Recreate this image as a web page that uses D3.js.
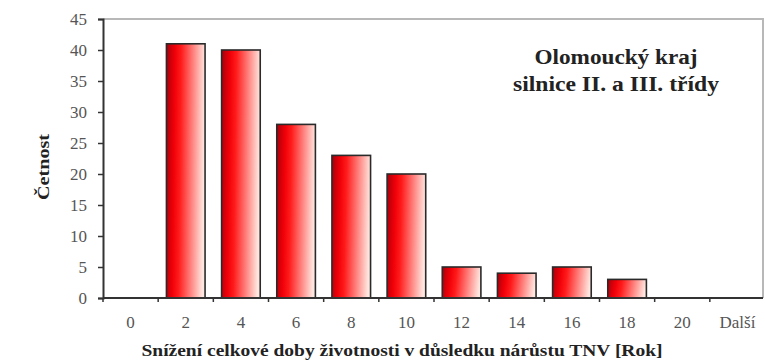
<!DOCTYPE html>
<html>
<head>
<meta charset="utf-8">
<script src="https://cdn.jsdelivr.net/npm/d3@7"></script>
<style>
  html, body { margin: 0; padding: 0; background: #fff; }
  svg { display: block; }
</style>
</head>
<body>
<svg id="chart" width="765" height="363"></svg>
<script>
// Histogram categories (years of service-life reduction) and their counts
const categories = ["0", "2", "4", "6", "8", "10", "12", "14", "16", "18", "20", "Další"];
const counts     = [0, 41, 40, 28, 23, 20, 5, 4, 5, 3, 0, 0];
const yTicks     = [0, 5, 10, 15, 20, 25, 30, 35, 40, 45];
const titleLines = ["Olomoucký kraj", "silnice II. a III. třídy"];
const xTitle     = "Snížení celkové doby životnosti v důsledku nárůstu TNV [Rok]";
const yTitle     = "Četnost";

const svg = d3.select("#chart");
const plotLeft = 103, plotRight = 765, plotTop = 19, plotBottom = 298, frameRight = 763;
const font = "Liberation Serif";

const x = d3.scaleBand().domain(categories).range([plotLeft, plotRight]).paddingInner(0.3).paddingOuter(0.15);
const xb = d3.scaleBand().domain(categories).range([plotLeft, plotRight]);
const y = d3.scaleLinear().domain([0, 45]).range([plotBottom, plotTop]);

// bar fill: dark red edge, bright red body, fading to pale pink
const defs = svg.append("defs");
const grad = defs.append("linearGradient").attr("id", "barGrad")
  .attr("x1", "0%").attr("y1", "0%").attr("x2", "100%").attr("y2", "8%");
grad.append("stop").attr("offset", "0%").attr("stop-color", "#a8000c");
grad.append("stop").attr("offset", "22%").attr("stop-color", "#f00008");
grad.append("stop").attr("offset", "38%").attr("stop-color", "#ff1a1a");
grad.append("stop").attr("offset", "100%").attr("stop-color", "#ffe6df");

// plot frame (top and right edges)
svg.append("path")
  .attr("d", `M${plotLeft},${plotTop}H${frameRight}V${plotBottom}`)
  .attr("fill", "none").attr("stroke", "#b8b8b8").attr("stroke-width", 2);

// bars
svg.append("g").selectAll("rect")
  .data(categories.map((c, i) => ({ c, v: counts[i] })).filter(d => d.v > 0))
  .join("rect")
  .attr("x", d => x(d.c))
  .attr("y", d => y(d.v))
  .attr("width", x.bandwidth())
  .attr("height", d => y(0) - y(d.v))
  .attr("fill", "url(#barGrad)")
  .attr("stroke", "#2a2a2a")
  .attr("stroke-width", 1.6);

// y axis
const yAxis = svg.append("g").attr("transform", `translate(${plotLeft},0)`)
  .call(d3.axisLeft(y).tickValues(yTicks).tickSize(5).tickPadding(11));
yAxis.select(".domain").attr("stroke", "#333").attr("stroke-width", 2);
yAxis.selectAll(".tick line").attr("stroke", "#333").attr("stroke-width", 1.5);
yAxis.selectAll(".tick text")
  .attr("font-family", font).attr("font-size", 17).attr("fill", "#555");

// x axis: ticks sit on category boundaries, labels centred in bands
const xAxisG = svg.append("g").attr("transform", `translate(0,${plotBottom})`);
xAxisG.append("line").attr("x1", plotLeft).attr("x2", frameRight)
  .attr("stroke", "#333").attr("stroke-width", 2);
xAxisG.selectAll("line.tk").data(categories.slice(1)).join("line").attr("class", "tk")
  .attr("x1", d => xb(d)).attr("x2", d => xb(d)).attr("y1", 0).attr("y2", 4)
  .attr("stroke", "#333").attr("stroke-width", 1.5);
xAxisG.append("line").attr("x1", plotLeft).attr("x2", plotLeft).attr("y1", 0).attr("y2", 4)
  .attr("stroke", "#333").attr("stroke-width", 1.5);
xAxisG.selectAll("text").data(categories).join("text")
  .attr("x", d => xb(d) + xb.bandwidth() / 2)
  .attr("y", 30)
  .attr("text-anchor", "middle")
  .attr("font-family", font).attr("font-size", 17).attr("fill", "#555")
  .text(d => d);

// axis titles
svg.append("text")
  .attr("x", 402).attr("y", 356).attr("text-anchor", "middle")
  .attr("font-family", font).attr("font-size", 17).attr("font-weight", "bold").attr("fill", "#222")
  .attr("textLength", 521).attr("lengthAdjust", "spacingAndGlyphs")
  .text(xTitle);
svg.append("text")
  .attr("transform", "translate(49,167) rotate(-90)").attr("text-anchor", "middle")
  .attr("font-family", font).attr("font-size", 17).attr("font-weight", "bold").attr("fill", "#222")
  .attr("textLength", 66).attr("lengthAdjust", "spacingAndGlyphs")
  .text(yTitle);

// chart title
const titleWidths = [163, 206];
svg.append("g").selectAll("text").data(titleLines).join("text")
  .attr("x", 616).attr("y", (d, i) => 64 + i * 27).attr("text-anchor", "middle")
  .attr("font-family", font).attr("font-size", 20).attr("font-weight", "bold").attr("fill", "#222")
  .attr("textLength", (d, i) => titleWidths[i]).attr("lengthAdjust", "spacingAndGlyphs")
  .text(d => d);
</script>
</body>
</html>
